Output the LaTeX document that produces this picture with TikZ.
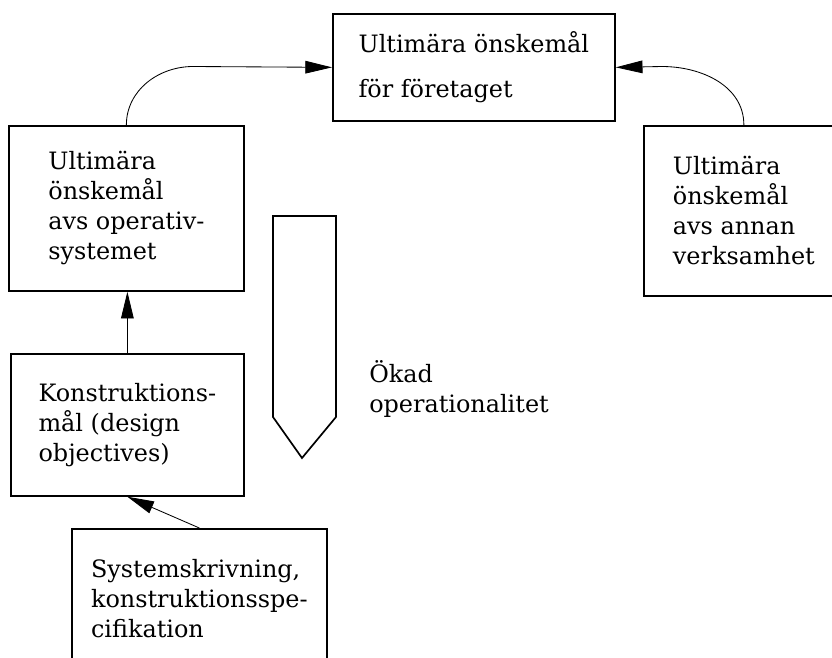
\documentclass[tikz,border=0pt]{standalone}
\usepackage{fontspec}
\setmainfont{DejaVu Serif}
\usepackage{tikz}
\usetikzlibrary{arrows.meta, positioning}

\tikzset{
  goalbox/.style={draw, line width=1.2pt, align=left, inner sep=0pt,
    font=\fontsize{17}{21.3}\selectfont},
  flow/.style={-{Triangle[length=19pt, width=9pt]}, line width=0.6pt},
}

\begin{document}
\begin{tikzpicture}[x=0.025cm, y=-0.025cm]
\useasboundingbox (0,0) rectangle (832,657);
\clip (0,0) rectangle (832,657);

% Goal boxes
\node[goalbox, anchor=north west, minimum width=7.05cm, minimum height=2.675cm,
  font=\fontsize{17}{32}\selectfont] (foretag) at (332,13)
  {Ultimära önskemål\\för företaget};
\node[goalbox, anchor=north west, minimum width=5.875cm, minimum height=4.125cm] (opsys) at (8,125)
  {Ultimära\\önskemål\\avs operativ-\\systemet};
\node[goalbox, anchor=north west, minimum width=5cm, minimum height=4.25cm] (annan) at (643,125)
  {Ultimära\\önskemål\\avs annan\\verksamhet};
\node[goalbox, anchor=north west, minimum width=5.825cm, minimum height=3.55cm] (konstr) at (10,353)
  {Konstruktions-\\mål (design\\objectives)};
\node[goalbox, anchor=north west, minimum width=6.375cm, minimum height=3.5cm] (spec) at (71,528)
  {Systemskrivning,\\konstruktionsspe-\\cifikation};

% Bends where the curved arrows level out
\coordinate (leftbend) at (193,66.5);
\coordinate (rightbend) at (662,66.5);

% Arrows
\draw[flow] (opsys.north) to[out=90, in=180] (leftbend) -- (foretag.west);
\draw[flow] (annan.north) to[out=90, in=0] (rightbend) -- (foretag.east);
\draw[flow] (konstr.north) -- (konstr.north |- opsys.south);
\draw[flow] (spec.north) -- (konstr.south);

% Downward pointer
\draw[line width=1.2pt] (273,216) -- (273,417) -- (302,458) -- (336,417) -- (336,216) -- cycle;
\node[anchor=north west, align=left, inner sep=0pt, font=\fontsize{17}{21.3}\selectfont] (okad) at (369,360)
  {Ökad\\operationalitet};
\end{tikzpicture}
\end{document}
